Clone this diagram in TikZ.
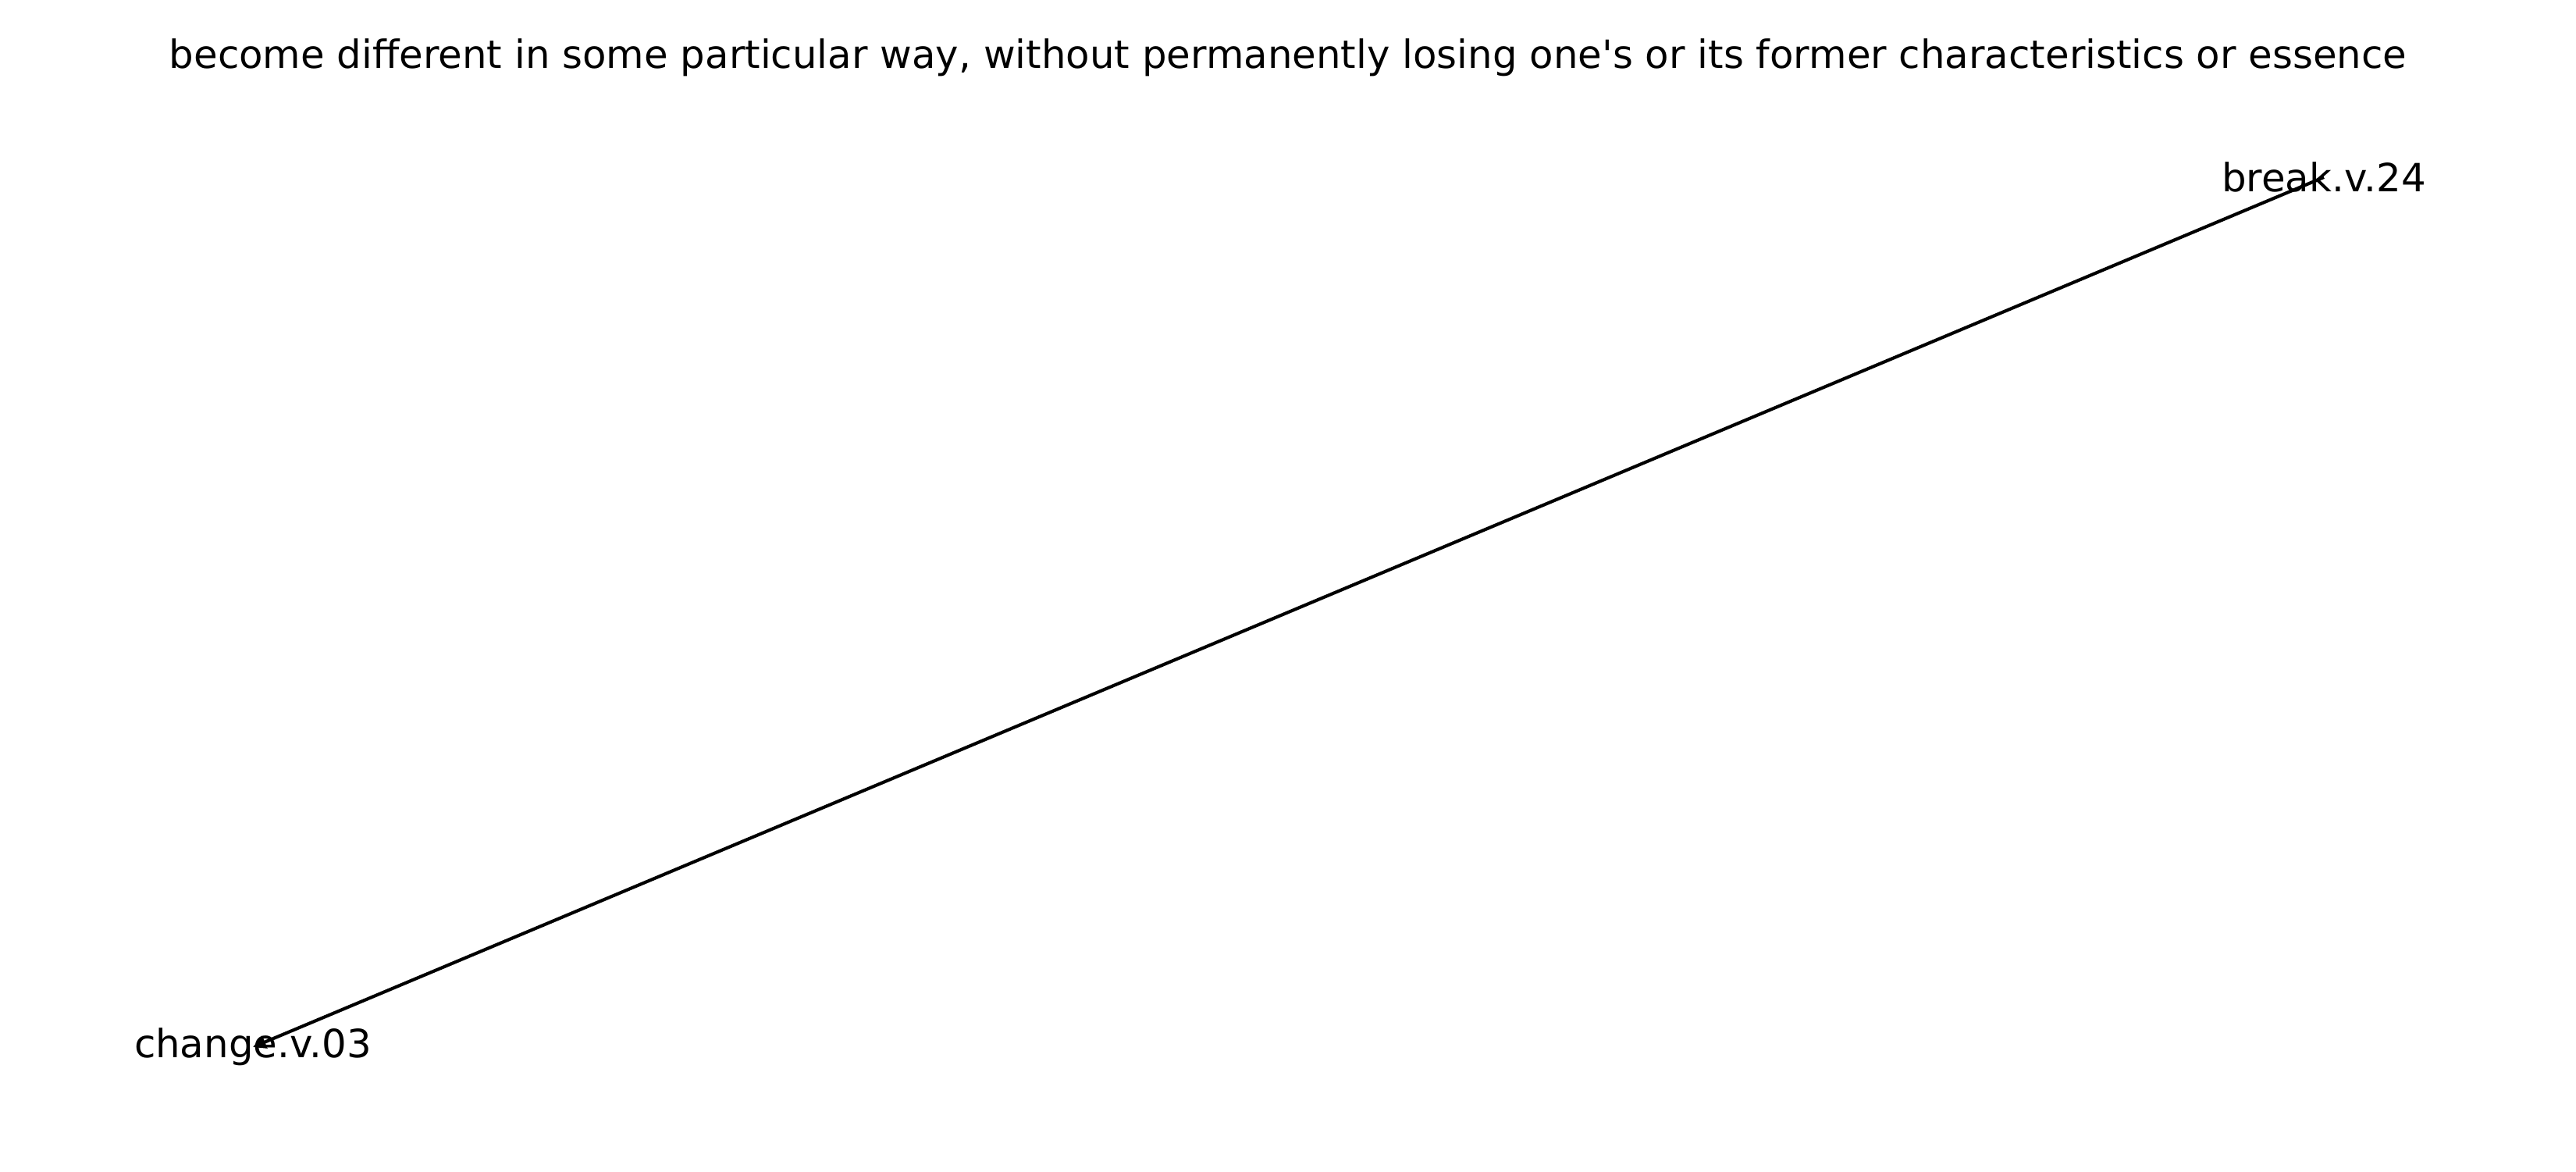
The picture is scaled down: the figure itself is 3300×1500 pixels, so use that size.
\documentclass[tikz,border=0pt]{standalone}
\usepackage{fontspec}
\setmainfont{DejaVu Sans}
\usetikzlibrary{arrows.meta}

\begin{document}
\begin{tikzpicture}[x=0.084667mm, y=-0.084667mm, >={Triangle[length=4pt,width=4pt]},
    word/.style={font=\fontsize{12pt}{14pt}\selectfont, inner sep=0pt}]
            % ==== FRAME ====
            \useasboundingbox (0,0) rectangle (3300,1500);
            % ==== TITLE ====
            \node[word] (title) at (1650,74) {become different in some particular way, without permanently losing one\textquotesingle s or its former characteristics or essence};
            % ==== SYNSETS ====
            \node[word] (break) at (2977,227) {break.v.24};
            \node[word] (change) at (324,1341) {change.v.03};
            % ==== EDGE ====
            \draw[->, line width=1pt] (break.center) -- (change.center);
         \end{tikzpicture}
\end{document}
